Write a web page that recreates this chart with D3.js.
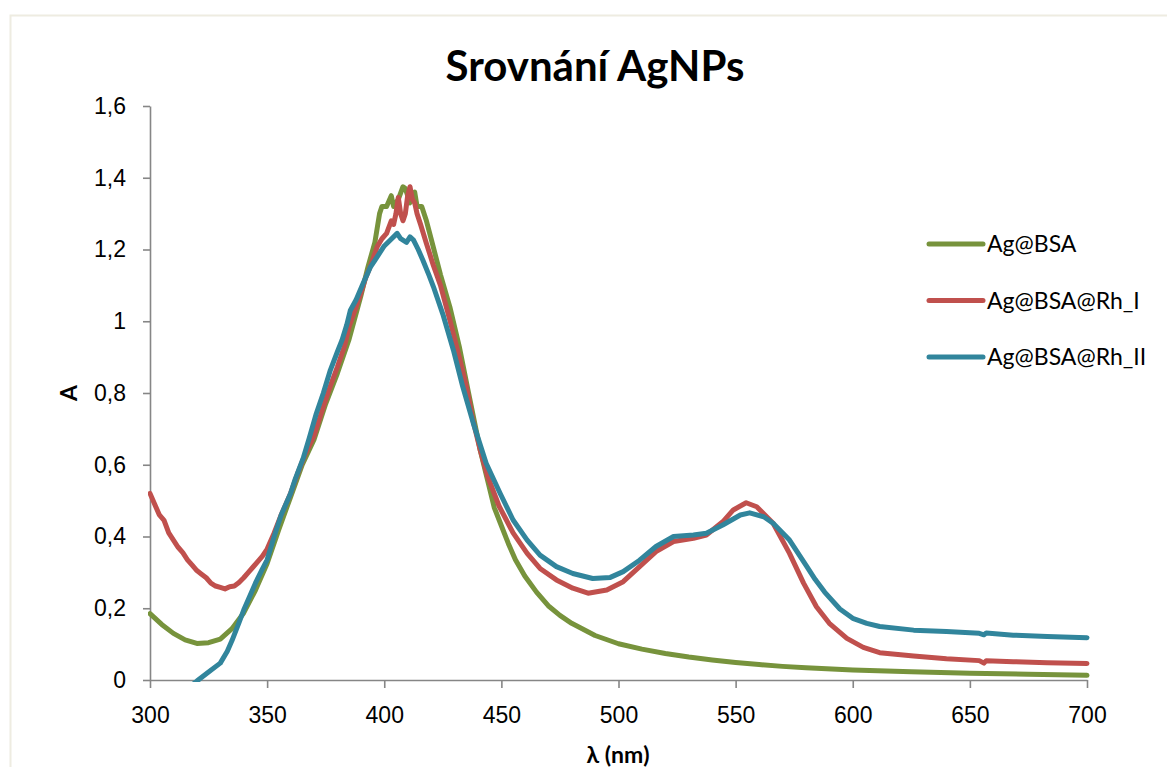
<!DOCTYPE html>
<html>
<head>
<meta charset="utf-8">
<script src="https://cdn.jsdelivr.net/npm/d3@7"></script>
<style>
  body { margin: 0; background: #fff; }
  svg { display: block; font-family: Lato, "Open Sans", sans-serif; }
  .axis path, .axis line { stroke: #868686; stroke-width: 1.6; }
  .axis text { fill: #000; font-size: 23px; }
  .series { fill: none; stroke-width: 5; stroke-linejoin: round; stroke-linecap: round; }
</style>
</head>
<body>
<svg id="chart" width="1167" height="767"></svg>
<script>
// series names and colours
const seriesNames = ["Ag@BSA", "Ag@BSA@Rh_I", "Ag@BSA@Rh_II"];
const seriesColors = ["#77933C", "#C0504D", "#31859C"];

// Ag@BSA
const wlGreen = [300,305,310,315,320,325,330,335,340,345,350,355,360,365,370,375,380,385,390,393,396,398,399,401,403,404,406,408,409,411,413,414,416,418,420,424,428,432,436,441,444,447,450,453,456,460,465,470,475,480,490,500,510,520,530,540,550,560,570,580,600,625,650,675,700];
const aGreen = [0.185,0.155,0.13,0.112,0.102,0.104,0.114,0.143,0.187,0.25,0.325,0.42,0.51,0.60,0.67,0.77,0.855,0.95,1.07,1.15,1.22,1.30,1.32,1.32,1.35,1.32,1.34,1.375,1.37,1.33,1.36,1.32,1.32,1.28,1.23,1.13,1.04,0.93,0.80,0.64,0.56,0.48,0.43,0.38,0.335,0.29,0.245,0.207,0.18,0.158,0.124,0.101,0.086,0.074,0.064,0.056,0.049,0.043,0.038,0.034,0.028,0.023,0.019,0.016,0.013];

// Ag@BSA@Rh_I
const wlRed = [300,302,304,306,308,310,312,314,316,318,320,322,324,326,328,330,332,334,336,338,340,342,344,346,348,350,353,356,360,363,366,370,374,377,380,383,385,388,390,392,394,397,399,401,403,404,405,406,407,408,409,410,411,412,413,414,415.5,418,421,424,428,432,435,438,441,444,449,455,461,466.5,473.5,480.5,487,495,502,509,516,523.5,532,537.5,544.5,549,554.5,559,566,573,579,584.5,590,597.5,604.5,611.5,626,640,654,656,657,668.5,683,700];
const aRed = [0.52,0.49,0.46,0.445,0.41,0.39,0.37,0.355,0.335,0.32,0.305,0.295,0.285,0.27,0.262,0.258,0.254,0.26,0.262,0.272,0.285,0.30,0.315,0.33,0.345,0.365,0.41,0.46,0.52,0.575,0.625,0.68,0.762,0.82,0.873,0.93,0.985,1.04,1.078,1.12,1.152,1.208,1.23,1.245,1.28,1.27,1.30,1.345,1.30,1.28,1.30,1.35,1.375,1.34,1.33,1.30,1.27,1.217,1.155,1.10,1.003,0.90,0.82,0.72,0.64,0.57,0.485,0.41,0.353,0.311,0.279,0.256,0.242,0.251,0.274,0.316,0.358,0.386,0.395,0.404,0.441,0.474,0.494,0.483,0.437,0.353,0.27,0.204,0.158,0.116,0.091,0.076,0.067,0.059,0.054,0.047,0.054,0.051,0.048,0.046];

// Ag@BSA@Rh_II
const wlBlue = [300,310,315,320,325,330,333,335,338,340,343,345,348,350,353,356,360,362,365.5,368,371,374,377,380,382,384,385.5,388,391,394,396,398,400,402.5,405.5,407,409.5,411,412.5,414.5,416.5,419,421,425,429.5,433.5,438,443.5,449.5,455,461,466.5,473.5,480.5,489,496.5,502,509,516,523.5,532,537.5,544.5,552,556,562,566,573,580,584,588,594.5,600,606,611.5,626,640,654,656,657,668.5,683,700];
const aBlue = [-0.12,-0.06,-0.03,-0.003,0.022,0.047,0.08,0.11,0.16,0.195,0.24,0.27,0.31,0.335,0.40,0.46,0.52,0.56,0.62,0.675,0.743,0.80,0.864,0.915,0.948,0.99,1.03,1.06,1.106,1.15,1.17,1.19,1.21,1.226,1.245,1.23,1.22,1.235,1.226,1.20,1.17,1.13,1.096,1.02,0.92,0.818,0.716,0.604,0.52,0.446,0.39,0.348,0.316,0.297,0.283,0.286,0.302,0.334,0.372,0.40,0.404,0.409,0.432,0.46,0.466,0.455,0.437,0.39,0.32,0.28,0.245,0.198,0.172,0.158,0.149,0.139,0.135,0.13,0.126,0.131,0.125,0.121,0.118];

const xTicks = [300,350,400,450,500,550,600,650,700];
const yTicks = [0,0.2,0.4,0.6,0.8,1,1.2,1.4,1.6];
const yTickLabels = ["0","0,2","0,4","0,6","0,8","1","1,2","1,4","1,6"];

const svg = d3.select("#chart");

// outer chart frame
svg.append("rect")
  .attr("x", 10.5).attr("y", 15.5)
  .attr("width", 1170).attr("height", 770)
  .attr("fill", "#fff")
  .attr("stroke", "#EEECE1")
  .attr("stroke-width", 2);

const x = d3.scaleLinear().domain([300, 700]).range([150, 1087]);
const y = d3.scaleLinear().domain([0, 1.6]).range([680, 106]);

svg.append("defs").append("clipPath").attr("id", "plotClip")
  .append("rect")
  .attr("x", 148).attr("y", 90)
  .attr("width", 945).attr("height", 592);

svg.append("g")
  .attr("class", "axis")
  .attr("transform", "translate(150,0)")
  .call(d3.axisLeft(y).tickValues(yTicks)
    .tickFormat((d, i) => yTickLabels[i])
    .tickSizeInner(7).tickSizeOuter(0).tickPadding(17));

svg.append("g")
  .attr("class", "axis")
  .attr("transform", "translate(0,680)")
  .call(d3.axisBottom(x).tickValues(xTicks)
    .tickSizeInner(8).tickSizeOuter(0).tickPadding(19));

svg.selectAll(".axis .domain").attr("stroke", "#868686");

const line = d3.line()
  .x(d => x(d[0]))
  .y(d => y(d[1]));

const allSeries = [
  d3.zip(wlGreen, aGreen),
  d3.zip(wlRed, aRed),
  d3.zip(wlBlue, aBlue)
];

svg.append("g")
  .attr("clip-path", "url(#plotClip)")
  .selectAll("path")
  .data(allSeries)
  .enter()
  .append("path")
  .attr("class", "series")
  .attr("stroke", (d, i) => seriesColors[i])
  .attr("d", line);

// title
svg.append("text")
  .attr("x", 595).attr("y", 81)
  .attr("text-anchor", "middle")
  .attr("font-size", 42)
  .attr("font-weight", "bold")
  .text("Srovnání AgNPs");

// axis titles
svg.append("text")
  .attr("transform", "translate(77,393) rotate(-90)")
  .attr("text-anchor", "middle")
  .attr("font-size", 23)
  .attr("font-weight", "bold")
  .text("A");

svg.append("text")
  .attr("x", 618).attr("y", 763)
  .attr("text-anchor", "middle")
  .attr("font-size", 23)
  .attr("font-weight", "bold")
  .text("λ (nm)");

// legend
const legend = svg.append("g").attr("transform", "translate(929,244)");
const items = legend.selectAll("g")
  .data(seriesNames)
  .enter()
  .append("g")
  .attr("transform", (d, i) => "translate(0," + (i * 56.5) + ")");

items.append("line")
  .attr("x1", 0).attr("x2", 54)
  .attr("stroke", (d, i) => seriesColors[i])
  .attr("stroke-width", 5)
  .attr("stroke-linecap", "round");

items.append("text")
  .attr("x", 58)
  .attr("dy", "0.35em")
  .attr("font-size", 23)
  .text(d => d);
</script>
</body>
</html>
